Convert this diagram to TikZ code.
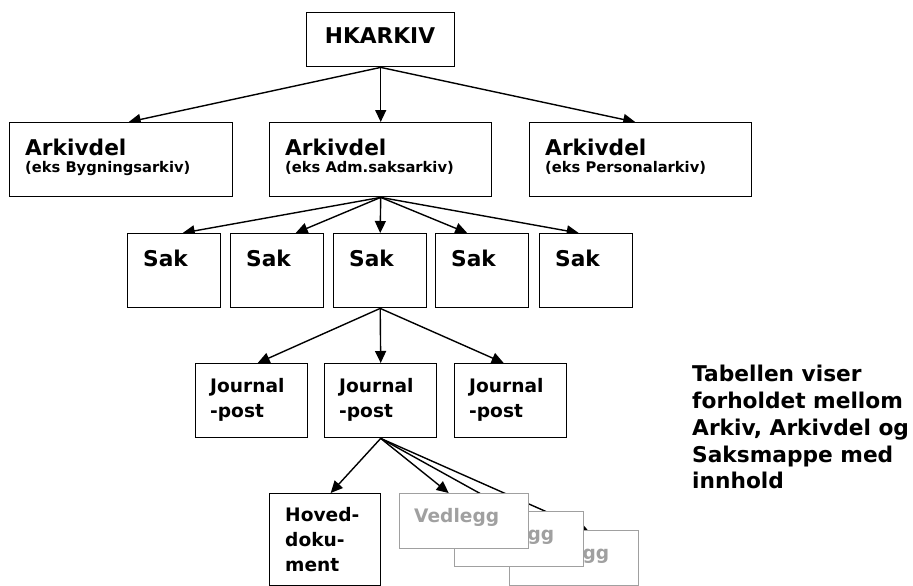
\documentclass[tikz,border=0pt]{standalone}
\usepackage{fontspec}
\setmainfont{DejaVu Sans}
\usetikzlibrary{arrows.meta,calc}
\pgfdeclarelayer{bg}
\pgfsetlayers{bg,main}
\definecolor{vgray}{RGB}{160,160,160}
\tikzset{
  boxn/.style={draw=black, line width=1.4pt, fill=white, rectangle, inner sep=0pt, anchor=north west},
  vbox/.style={boxn, draw=vgray, minimum width=129pt, minimum height=55pt},
  conn/.style={line width=1.4pt, -{Triangle[length=12pt,width=11pt]}},
  big/.style={font=\bfseries\fontsize{21.7}{26}\selectfont, inner sep=0pt, anchor=base west},
  med/.style={font=\bfseries\fontsize{18.6}{24}\selectfont, inner sep=0pt, anchor=base west},
  sml/.style={font=\bfseries\fontsize{14.7}{18}\selectfont, inner sep=0pt, anchor=base west},
  vtxt/.style={med, text=vgray},
}
\begin{document}
\begin{tikzpicture}[x=1pt,y=-1pt]
\useasboundingbox (0,0) rectangle (913,586);
% top
\node[boxn, minimum width=148pt, minimum height=54pt] (hk) at (306,12) {};
\node[big, anchor=base] (thk) at (380,44) {HKARKIV};
% Arkivdel
\node[boxn, minimum width=223pt, minimum height=74pt] (ark1) at (9,122) {};
\node[boxn, minimum width=222pt, minimum height=74pt] (ark2) at (269,122) {};
\node[boxn, minimum width=222pt, minimum height=74pt] (ark3) at (529,122) {};
\node[big] (ta1) at (25,155) {Arkivdel};
\node[sml] (tb1) at (25,172.5) {(eks Bygningsarkiv)};
\node[big] (ta2) at (285,155) {Arkivdel};
\node[sml] (tb2) at (285,172.5) {(eks Adm.saksarkiv)};
\node[big] (ta3) at (545,155) {Arkivdel};
\node[sml] (tb3) at (545,172.5) {(eks Personalarkiv)};
% Sak
\foreach \i/\x in {1/127,2/230,3/333,4/435,5/539}{
  \node[boxn, minimum width=93pt, minimum height=74pt] (sak\i) at (\x,233) {};
  \node[big] (ts\i) at (\x+16,266) {Sak};
}
% Journalpost
\foreach \i/\x in {1/195,2/324,3/454}{
  \node[boxn, minimum width=112pt, minimum height=74pt] (j\i) at (\x,363) {};
  \node[med] (tj\i a) at (\x+15,392) {Journal};
  \node[med] (tj\i b) at (\x+15,417) {-post};
}
% Hoveddokument
\node[boxn, minimum width=111pt, minimum height=92pt] (hov) at (269,493) {};
\node[med] (th1) at (285,521) {Hoved-};
\node[med] (th2) at (285,546) {doku-};
\node[med] (th3) at (285,571) {ment};
% Vedlegg stack
\node[vbox] (v3) at (509,530) {};
\node[vtxt] (tv3) at (524,559) {Vedlegg};
\node[vbox] (v2) at (454,511) {};
\node[vtxt] (tv2) at (469,540) {Vedlegg};
\node[vbox] (v1) at (399,493) {};
\node[vtxt] (tv1) at (414,522) {Vedlegg};
% caption
\node[big] (c1) at (692,381.7) {Tabellen viser};
\node[big] (c2) at (692,408.5) {forholdet mellom};
\node[big] (c3) at (692,435.3) {Arkiv, Arkivdel og};
\node[big] (c4) at (692,462) {Saksmappe med};
\node[big] (c5) at (692,488.8) {innhold};
% connectors
\begin{pgfonlayer}{bg}
\draw[conn] (hk.south) -- ([xshift=7.5pt]ark1.north);
\draw[conn] (hk.south) -- (ark2.north);
\draw[conn] (hk.south) -- ([xshift=-5.5pt]ark3.north);
\draw[conn] (ark2.south) -- ([xshift=8.5pt]sak1.north);
\draw[conn] (ark2.south) -- ([xshift=18.5pt]sak2.north);
\draw[conn] (ark2.south) -- (sak3.north);
\draw[conn] (ark2.south) -- ([xshift=-15pt]sak4.north);
\draw[conn] (ark2.south) -- ([xshift=-7.5pt]sak5.north);
\draw[conn] (sak3.south) -- ([xshift=6pt]j1.north);
\draw[conn] (sak3.south) -- (j2.north);
\draw[conn] (sak3.south) -- ([xshift=-7pt]j3.north);
\draw[conn] (j2.south) -- ([xshift=5.5pt]hov.north);
\draw[conn] (j2.south) -- ([xshift=-15.5pt]v1.north);
\draw[conn] (j2.south) -- ([xshift=-7.5pt]v2.north);
\draw[conn] (j2.south) -- ([xshift=13.5pt]v3.north);
\end{pgfonlayer}
\end{tikzpicture}
\end{document}
